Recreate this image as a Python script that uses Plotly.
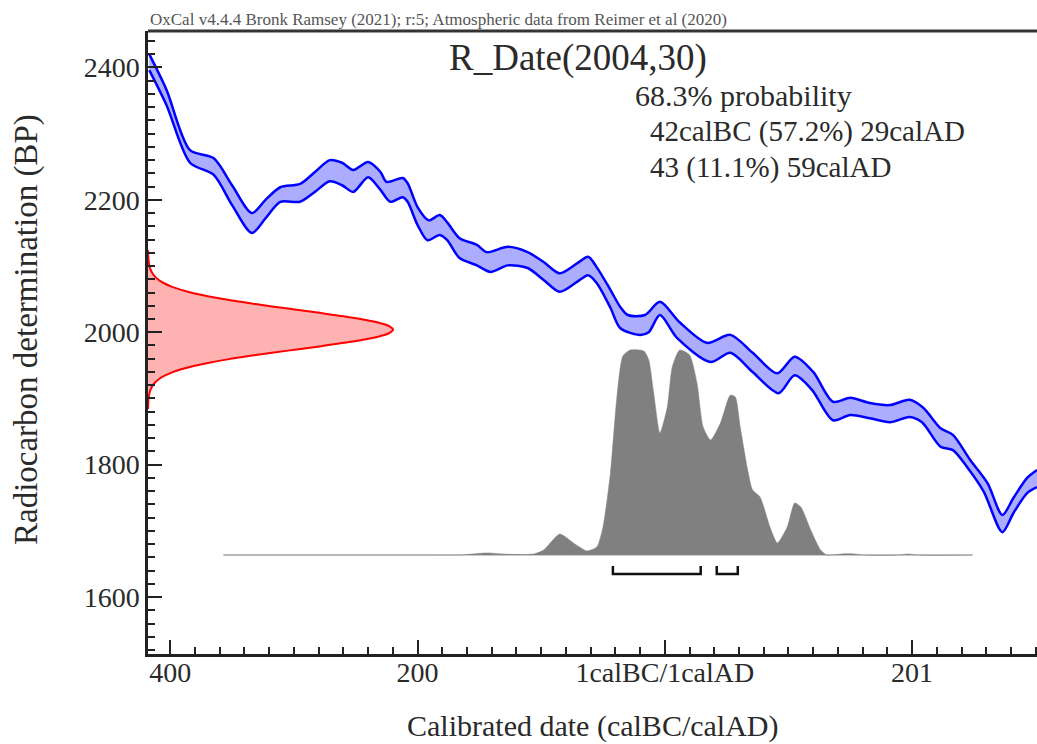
import plotly.graph_objects as go

# ---------------- data ----------------
# calibration curve (IntCal20) upper / lower 1-sigma envelope
upper_t = [-417, -403, -384, -365, -350, -334, -323, -311, -295, -283, -271, -261, -252, -240, -230,
           -225, -212, -208, -200, -191, -182, -176, -166, -152, -144, -127, -111, -98, -85, -71,
           -62, -55, -44, -36, -30, -16, -4, 12, 34, 53, 71, 91, 105, 120, 136,
           150, 166, 182, 198, 209, 223, 233, 247, 261, 273, 282, 293, 301]
upper_bp = [2420, 2366, 2275, 2263, 2222, 2180, 2200, 2219, 2224, 2242, 2260, 2256, 2245, 2257, 2242,
            2227, 2233, 2225, 2189, 2169, 2177, 2166, 2142, 2132, 2121, 2129, 2121, 2106, 2089, 2104,
            2114, 2098, 2064, 2038, 2026, 2026, 2046, 2015, 1984, 1996, 1969, 1938, 1963, 1940, 1895,
            1901, 1893, 1890, 1898, 1886, 1855, 1845, 1807, 1772, 1724, 1750, 1780, 1792]
lower_t = [-417, -403, -384, -365, -350, -334, -323, -311, -295, -283, -271, -261, -252, -240, -230,
           -222, -212, -208, -200, -192, -182, -176, -166, -152, -141, -127, -111, -98, -85, -71,
           -62, -55, -44, -36, -20, -13, -4, 10, 37, 53, 71, 92, 105, 119, 136,
           150, 166, 182, 198, 208, 223, 233, 245, 258, 273, 282, 293, 301]
lower_bp = [2396, 2343, 2256, 2238, 2192, 2150, 2172, 2197, 2197, 2212, 2228, 2222, 2212, 2234, 2215,
            2197, 2204, 2197, 2162, 2139, 2147, 2139, 2112, 2101, 2091, 2101, 2097, 2079, 2061, 2076,
            2086, 2074, 2037, 2006, 1996, 2000, 2026, 1991, 1955, 1969, 1940, 1908, 1935, 1913, 1867,
            1875, 1870, 1864, 1872, 1864, 1827, 1822, 1795, 1759, 1698, 1727, 1757, 1766]

# calibrated probability distribution (relative)
dist_t = [-357, -200, -166, -144, -125, -106, -98, -85, -74, -63, -55, -50, -44, -39, -34,
          -28, -17, -13, -9, -4, 2, 6, 12, 20, 26, 31, 37, 45, 53, 57,
          61, 67, 71, 77, 85, 91, 99, 105, 110, 118, 126, 131, 145, 152, 160,
          190, 197, 204, 249]
dist_p = [0, 0, 0, 0.01, 0.003, 0.005, 0.024, 0.102, 0.059, 0.02, 0.039, 0.137, 0.4, 0.756, 0.97,
          1.0, 0.995, 0.951, 0.79, 0.595, 0.722, 0.917, 1.0, 0.976, 0.839, 0.624, 0.561, 0.644, 0.78, 0.771,
          0.624, 0.415, 0.317, 0.283, 0.137, 0.059, 0.137, 0.254, 0.234, 0.122, 0.024, 0, 0.006, 0.006, 0,
          0, 0.005, 0, 0]

# radiocarbon measurement R_Date(2004,30): relative density vs BP
red_bp = list(range(1884, 2125, 5))
red_p = [0.0003, 0.0006, 0.0012, 0.0022, 0.0039, 0.0067, 0.0111, 0.0181, 0.0286, 0.0439,
         0.0657, 0.0956, 0.1353, 0.1863, 0.2494, 0.3247, 0.4111, 0.5063, 0.6065, 0.7066,
         0.8007, 0.8825, 0.9460, 0.9862, 1.0,
         0.9862, 0.9460, 0.8825, 0.8007, 0.7066, 0.6065, 0.5063, 0.4111, 0.3247, 0.2494,
         0.1863, 0.1353, 0.0956, 0.0657, 0.0439, 0.0286, 0.0181, 0.0111, 0.0067, 0.0039,
         0.0022, 0.0012, 0.0006, 0.0003]

# 68.3% ranges (calBC negative)
range_starts = [-42, 42]
range_ends = [29, 59]

x_tickvals = [-400, -200, 0, 200]
x_ticktext = ["400", "200", "1calBC/1calAD", "201"]
y_tickvals = [1600, 1800, 2000, 2200, 2400]

FONT = "Liberation Serif, DejaVu Serif, serif"
TXT = "#2a2a2a"
AX = "#222222"

fig = go.Figure()

# calibrated distribution
fig.add_trace(go.Scatter(x=[dist_t[0], dist_t[-1]], y=[0, 0], xaxis="x", yaxis="y2", mode="lines",
                         line=dict(color="rgb(185,185,185)", width=1.5), hoverinfo="skip", showlegend=False))
fig.add_trace(go.Scatter(x=dist_t, y=dist_p, xaxis="x", yaxis="y2", mode="lines",
                         line=dict(color="rgb(128,128,128)", width=0.5, shape="spline", smoothing=0.6),
                         fill="tozeroy", fillcolor="rgb(128,128,128)", hoverinfo="skip", showlegend=False))

# 68.3% range brackets
bx, by = [], []
for s, e in zip(range_starts, range_ends):
    bx += [s, s, e, e, None]
    by += [-0.054, -0.093, -0.093, -0.054, None]
fig.add_trace(go.Scatter(x=bx, y=by, xaxis="x", yaxis="y2", mode="lines",
                         line=dict(color="#111", width=2.5), hoverinfo="skip", showlegend=False))

# calibration curve envelope
fig.add_trace(go.Scatter(x=lower_t, y=lower_bp, mode="lines",
                         line=dict(color="#0000ff", width=2.5, shape="spline", smoothing=0.8),
                         hoverinfo="skip", showlegend=False))
fig.add_trace(go.Scatter(x=upper_t, y=upper_bp, mode="lines", fill="tonexty",
                         fillcolor="rgba(0,0,255,0.32)",
                         line=dict(color="#0000ff", width=2.5, shape="spline", smoothing=0.8),
                         hoverinfo="skip", showlegend=False))

# radiocarbon date (red)
fig.add_trace(go.Scatter(x=red_p, y=red_bp, xaxis="x2", yaxis="y", mode="lines", fill="tozerox",
                         fillcolor="rgba(255,0,0,0.3)",
                         line=dict(color="#ff0000", width=2, shape="spline"),
                         hoverinfo="skip", showlegend=False))

axis_common = dict(showline=True, linecolor=AX, linewidth=2.5, ticks="inside", ticklen=14,
                   tickwidth=2, tickcolor=AX, showgrid=False, zeroline=False,
                   tickfont=dict(family=FONT, size=28, color=TXT))

fig.update_layout(
    width=1037, height=744,
    margin=dict(l=148, r=0, t=31, b=90),
    paper_bgcolor="white", plot_bgcolor="white",
    xaxis=dict(range=[-418, 301], tickmode="array", tickvals=x_tickvals, ticktext=x_ticktext,
               ticklabelstandoff=-8,
               minor=dict(tickmode="linear", tick0=0, dtick=20, ticks="inside", ticklen=7,
                          tickwidth=1.5, tickcolor=AX),
               **axis_common),
    yaxis=dict(range=[1514, 2455], tickmode="array", tickvals=y_tickvals,
               minor=dict(tickmode="linear", tick0=0, dtick=20, ticks="inside", ticklen=7,
                          tickwidth=1.5, tickcolor=AX),
               **axis_common),
    xaxis2=dict(overlaying="x", range=[0, 3.628], visible=False),
    yaxis2=dict(overlaying="y", range=[-0.483, 2.556], visible=False),
    showlegend=False,
)

fig.add_shape(type="line", xref="paper", yref="paper", x0=0, x1=1, y0=1, y1=1,
              line=dict(color="#333", width=3))

ann = []
ann.append(dict(text="OxCal v4.4.4 Bronk Ramsey (2021); r:5; Atmospheric data from Reimer et al (2020)",
                xref="paper", yref="paper", x=0, y=1, xanchor="left", yanchor="bottom", yshift=0,
                showarrow=False, font=dict(family=FONT, size=17, color="#555")))
ann.append(dict(text="R_Date(2004,30)", xref="paper", yref="paper", x=(447 - 148) / 889, y=(654 - 58) / 623,
                xanchor="left", yanchor="middle", showarrow=False, font=dict(family=FONT, size=37, color=TXT)))
ann.append(dict(text="68.3% probability", xref="paper", yref="paper", x=(633 - 148) / 889, y=(654 - 95) / 623,
                xanchor="left", yanchor="middle", showarrow=False, font=dict(family=FONT, size=30, color=TXT)))
ann.append(dict(text="42calBC (57.2%) 29calAD", xref="paper", yref="paper", x=(648 - 148) / 889,
                y=(654 - 131) / 623, xanchor="left", yanchor="middle", showarrow=False,
                font=dict(family=FONT, size=29, color=TXT)))
ann.append(dict(text="43 (11.1%) 59calAD", xref="paper", yref="paper", x=(648 - 148) / 889,
                y=(654 - 167) / 623, xanchor="left", yanchor="middle", showarrow=False,
                font=dict(family=FONT, size=29, color=TXT)))
ann.append(dict(text="Radiocarbon determination (BP)", xref="paper", yref="paper", x=(26 - 148) / 889,
                y=(654 - 330) / 623, xanchor="center", yanchor="middle", textangle=-90, showarrow=False,
                font=dict(family=FONT, size=33, color=TXT)))
ann.append(dict(text="Calibrated date (calBC/calAD)", xref="paper", yref="paper", x=(593 - 148) / 889,
                y=(654 - 726) / 623, xanchor="center", yanchor="middle", showarrow=False,
                font=dict(family=FONT, size=30, color=TXT)))
fig.update_layout(annotations=ann)

fig.write_html("out.html")
